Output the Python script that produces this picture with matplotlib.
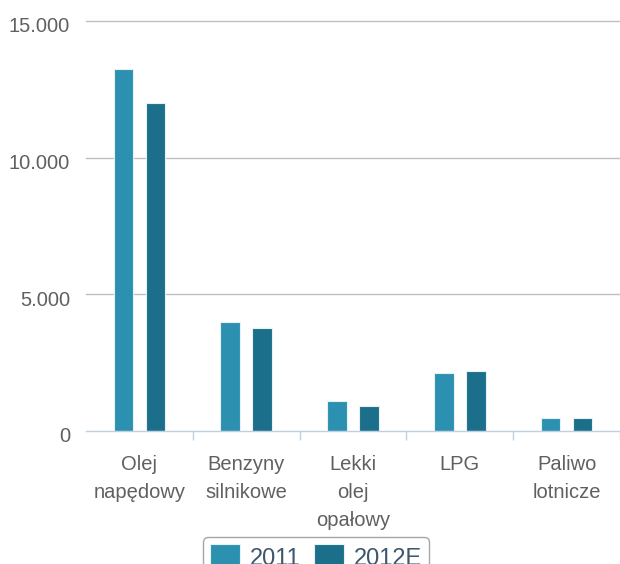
import matplotlib
matplotlib.use("Agg")
import matplotlib.pyplot as plt
import matplotlib.transforms as mtransforms
import numpy as np

# data
categories = ["Olej\nnapędowy", "Benzyny\nsilnikowe", "Lekki\nolej\nopałowy", "LPG", "Paliwo\nlotnicze"]
values_2011 = [13240, 4000, 1100, 2120, 490]
values_2012 = [12000, 3760, 915, 2195, 490]
series_names = ["2011", "2012E"]
yticks = [0, 5000, 10000, 15000]
ytick_labels = ["0", "5.000", "10.000", "15.000"]

plt.rcParams["font.family"] = ["Liberation Sans", "DejaVu Sans"]

fig = plt.figure(figsize=(6.2, 5.64), dpi=100)
ax = fig.add_axes([86 / 620, 1 - 431 / 564, 534 / 620, 410 / 564])

x = np.arange(len(categories))
w = 0.183
off = 0.15
ax.bar(x - off, values_2011, w, color="#2C90B0", edgecolor="#E6F1F5", linewidth=0.8,
       label=series_names[0], zorder=3)
ax.bar(x + off, values_2012, w, color="#1B6F8A", edgecolor="#E6F1F5", linewidth=0.8,
       label=series_names[1], zorder=3)

ax.set_xlim(-0.5, 4.5)
ax.set_ylim(0, 15000)

# horizontal grid lines
for t in yticks[1:]:
    ax.axhline(t, color="#C0C0C0", linewidth=1.0, zorder=1, clip_on=False)

for s in ["top", "right", "left"]:
    ax.spines[s].set_visible(False)
ax.spines["bottom"].set_color("#C0D0E0")
ax.spines["bottom"].set_linewidth(1.0)
ax.spines["bottom"].set_zorder(4)

ax.set_yticks(yticks)
ax.set_yticklabels(ytick_labels)
ax.tick_params(axis="y", length=0, pad=11.5, labelsize=14.5, labelcolor="#606060")
offset = mtransforms.ScaledTranslation(0, -4 / 100, fig.dpi_scale_trans)
for lab in ax.get_yticklabels():
    lab.set_transform(lab.get_transform() + offset)

# category boundaries as major ticks, names as minor ticks
ax.set_xticks([0.5, 1.5, 2.5, 3.5, 4.5])
ax.set_xticklabels([])
ax.tick_params(axis="x", which="major", length=6.5, width=1.0, color="#C0D0E0")
ax.set_xticks(x, minor=True)
ax.set_xticklabels(categories, minor=True)
ax.tick_params(axis="x", which="minor", length=0, pad=17, labelsize=14.5, labelcolor="#606060")
for lab in ax.get_xticklabels(minor=True):
    lab.set_linespacing(1.62)
    lab.set_verticalalignment("top")

leg = fig.legend(loc="upper center", bbox_to_anchor=(316 / 620, 1 - 537 / 564), ncol=2,
                 fontsize=17, frameon=True, fancybox=True, edgecolor="#909090",
                 handlelength=1.27, handleheight=1.27, handletextpad=0.4,
                 columnspacing=0.57, borderpad=0.3, borderaxespad=0)
for t in leg.get_texts():
    t.set_color("#3E576F")
leg.get_frame().set_linewidth(1.0)

fig.savefig("out.png", dpi=100)
